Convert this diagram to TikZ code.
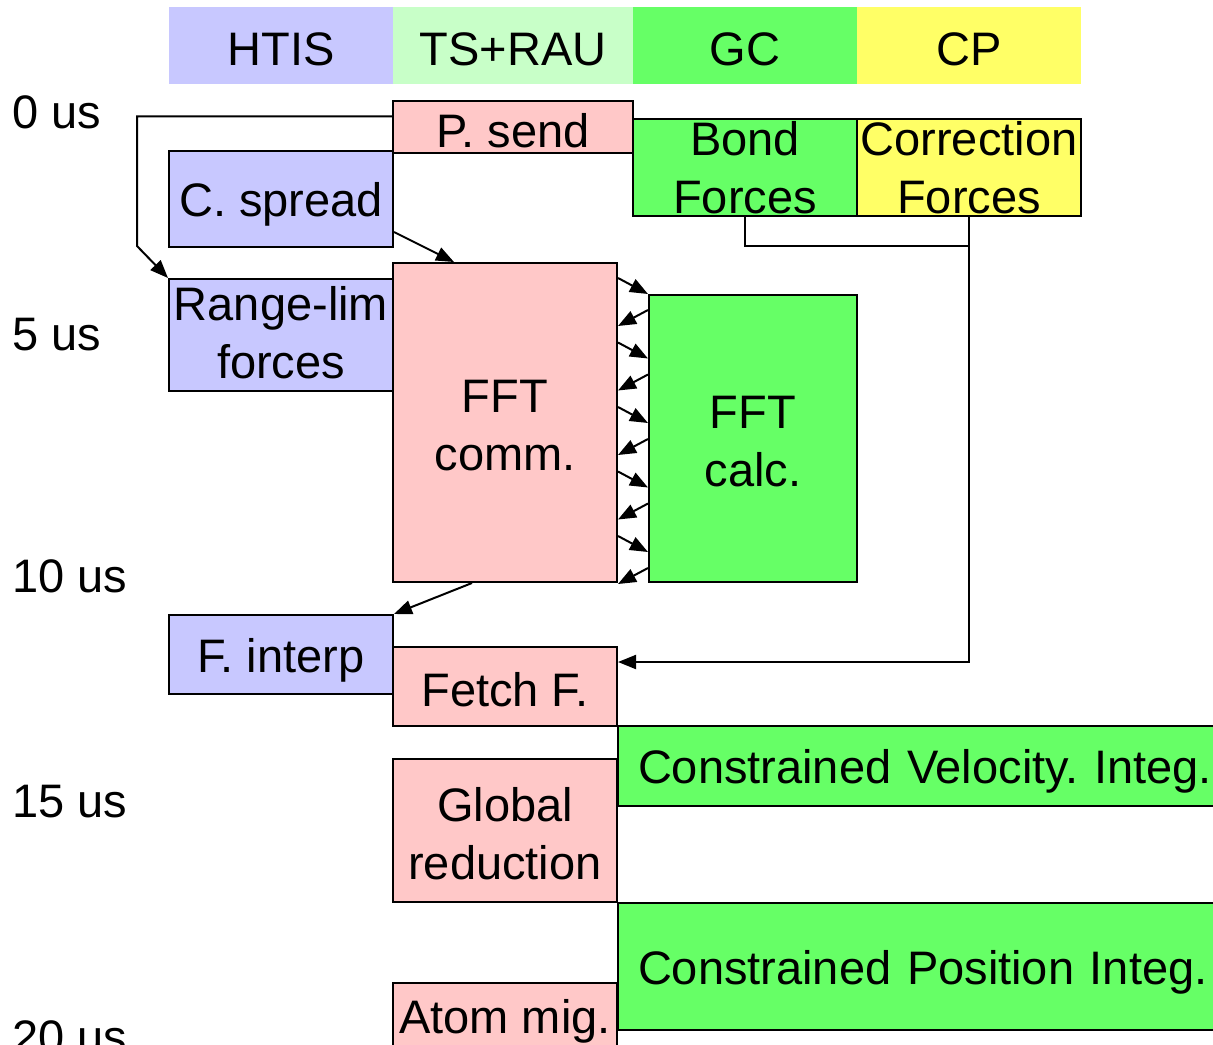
\documentclass[tikz,border=0pt]{standalone}
\usepackage{fontspec}
\setmainfont{Liberation Sans}
\usetikzlibrary{arrows.meta}
\frenchspacing

\definecolor{htisblue}{HTML}{C8C8FF}
\definecolor{tsgreen}{HTML}{C8FFC8}
\definecolor{gcgreen}{HTML}{66FF66}
\definecolor{cpyellow}{HTML}{FFFF66}
\definecolor{commpink}{HTML}{FFC8C8}

% line strut so that boxes centre on full line height
\newcommand{\linestrut}{\rule[-2.85pt]{0pt}{25.7pt}}

\tikzset{
  lbl/.style={font=\fontsize{23.5}{29}\selectfont, inner sep=0pt, align=center,
    execute at begin node=\linestrut, execute at end node=\linestrut},
  hdr/.style={lbl, minimum height=38.5pt},
  task/.style={lbl, draw=black, line width=1pt},
  wide/.style={task, text width=291.5pt, align=left, inner xsep=10pt, minimum width=311.5pt},
  tick/.style={font=\fontsize{23.5}{29}\selectfont, inner sep=0pt, anchor=base west},
  link/.style={line width=1pt},
  arr/.style={link, -{Triangle[length=9pt,width=7pt]}},
}

\begin{document}
\begin{tikzpicture}[x=0.5pt, y=-0.5pt]
\useasboundingbox (0,0) rectangle (1213,1044);

% unit columns
\node[hdr, fill=htisblue, minimum width=112pt] (hHTIS) at (281,45.5) {HTIS};
\node[hdr, fill=tsgreen,  minimum width=120pt] (hTS)   at (513,45.5) {TS+RAU};
\node[hdr, fill=gcgreen,  minimum width=112pt] (hGC)   at (745,45.5) {GC};
\node[hdr, fill=cpyellow, minimum width=112pt] (hCP)   at (969,45.5) {CP};

% time axis
\node[tick] (t0)  at (12,128)  {0 us};
\node[tick] (t5)  at (12,350)  {5 us};
\node[tick] (t10) at (12,592)  {10 us};
\node[tick] (t15) at (12,817)  {15 us};
\node[tick] (t20) at (12,1053) {20 us};

% tasks
\node[task, fill=commpink, minimum width=120pt, minimum height=24pt]   (psend)  at (513,127)   {P. send};
\node[task, fill=gcgreen,  minimum width=112pt, minimum height=48.5pt] (bond)   at (745,167.5) {};
\node[lbl, yshift=-1.5pt] (bondtext) at (bond) {Bond\\Forces};
\node[task, fill=cpyellow, minimum width=112pt, minimum height=48.5pt] (corr)   at (969,167.5) {};
\node[lbl, yshift=-1.5pt] (corrtext) at (corr) {Correction\\Forces};
\node[task, fill=htisblue, minimum width=112pt, minimum height=48pt]   (cspread) at (281,199)  {C. spread};
\node[task, fill=htisblue, minimum width=112pt, minimum height=56pt]   (rangelim) at (281,335) {Range-lim\\forces};
\node[task, fill=commpink, minimum width=112pt, minimum height=159.5pt] (fftcomm) at (505,422.5) {};
\node[lbl, yshift=-3pt] (fftcommtext) at (fftcomm) {FFT\\comm.};
\node[task, fill=gcgreen,  minimum width=104pt, minimum height=143.5pt] (fftcalc) at (753,438.5) {};
\node[lbl, yshift=-3pt] (fftcalctext) at (fftcalc) {FFT\\calc.};
\node[task, fill=htisblue, minimum width=112pt, minimum height=39.5pt] (finterp) at (281,654.5) {F. interp};
\node[task, fill=commpink, minimum width=112pt, minimum height=39.5pt] (fetch)   at (505,686.5) {Fetch F.};
\node[task, fill=commpink, minimum width=112pt, minimum height=71.5pt] (glob)    at (505,830.5) {};
\node[lbl, yshift=-3pt] (globtext) at (glob) {Global\\reduction};
\node[task, fill=commpink, minimum width=112pt, minimum height=33pt]   (atom)    at (505,1016)  {Atom mig.};
\node[wide, fill=gcgreen, minimum height=40pt, anchor=west]   (cvi) at (617,766)   {Constrained Velocity. Integ.};
\node[wide, fill=gcgreen, minimum height=63.5pt, anchor=west] (cpi) at (617,966.5) {Constrained Position Integ.};

% charge spreading and range-limited forces start from the particle send
\coordinate (loopc) at (137,246);
\draw[arr] ([yshift=-8pt]psend.north west) -| (loopc) -- (rangelim.north west);
\draw[arr] ([yshift=8pt]cspread.south east) -- ([xshift=31pt]fftcomm.north west);

% FFT exchange between communication and calculation
\foreach \k in {0,...,4}{
  \pgfmathsetmacro{\ya}{278+64.5*\k}
  \pgfmathsetmacro{\yb}{294+64.5*\k}
  \pgfmathsetmacro{\yc}{310+64.5*\k}
  \pgfmathsetmacro{\yd}{326+64.5*\k}
  \draw[arr] (fftcomm.east |- 0,\ya) -- (fftcalc.west |- 0,\yb);
  \draw[arr] (fftcalc.west |- 0,\yc) -- (fftcomm.east |- 0,\yd);
}

\draw[arr] ([xshift=40pt]fftcomm.south west) -- (finterp.north east);

% bonded and correction forces are gathered by the force fetch
\coordinate (merge) at (969,246);
\draw[link] (bond.south) |- (merge);
\draw[arr] (corr.south) |- ([yshift=12.25pt]fetch.east);
\end{tikzpicture}
\end{document}
